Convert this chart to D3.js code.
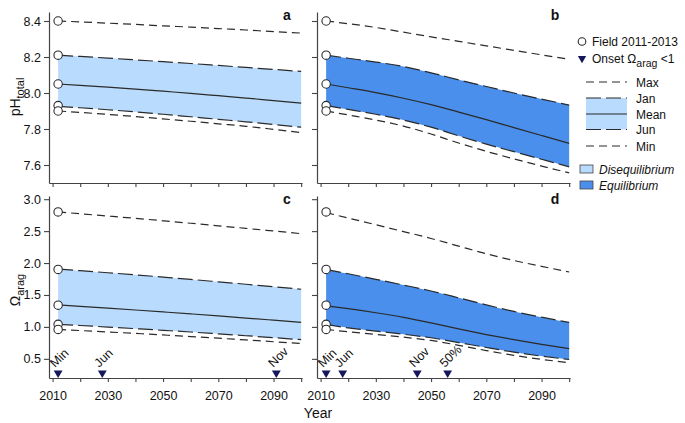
<!DOCTYPE html>
<html><head><meta charset="utf-8">
<script src="https://cdn.jsdelivr.net/npm/d3@7"></script>
<style>
body{margin:0;background:#fff;}
text{font-family:"Liberation Sans",Arial,Helvetica,sans-serif;fill:#111;}
</style>
</head><body>
<svg id="chart" width="685" height="423"></svg>
<script>
// ---------- DATA ----------
const years = [2012, 2020, 2030, 2040, 2050, 2060, 2070, 2080, 2090, 2100];

// pH, disequilibrium (panel a)
const phDiseqMax  = [8.400, 8.395, 8.388, 8.381, 8.373, 8.366, 8.358, 8.350, 8.341, 8.333];
const phDiseqJan  = [8.210, 8.203, 8.194, 8.184, 8.174, 8.164, 8.153, 8.142, 8.131, 8.120];
const phDiseqMean = [8.050, 8.042, 8.033, 8.022, 8.010, 7.998, 7.985, 7.972, 7.958, 7.944];
const phDiseqJun  = [7.926, 7.918, 7.907, 7.895, 7.882, 7.868, 7.854, 7.840, 7.825, 7.810];
const phDiseqMin  = [7.900, 7.892, 7.881, 7.869, 7.856, 7.843, 7.829, 7.815, 7.798, 7.780];

// pH, equilibrium (panel b)
const phEquilMax  = [8.400, 8.385, 8.364, 8.338, 8.312, 8.287, 8.262, 8.237, 8.212, 8.188];
const phEquilJan  = [8.210, 8.193, 8.172, 8.147, 8.112, 8.073, 8.036, 8.000, 7.966, 7.933];
const phEquilMean = [8.050, 8.029, 8.002, 7.971, 7.935, 7.894, 7.852, 7.808, 7.764, 7.720];
const phEquilJun  = [7.930, 7.909, 7.882, 7.850, 7.810, 7.762, 7.716, 7.674, 7.632, 7.590];
const phEquilMin  = [7.900, 7.878, 7.850, 7.816, 7.772, 7.722, 7.676, 7.634, 7.594, 7.556];

// Omega aragonite, disequilibrium (panel c)
const omDiseqMax  = [2.800, 2.772, 2.736, 2.700, 2.662, 2.623, 2.583, 2.543, 2.502, 2.460];
const omDiseqJan  = [1.905, 1.880, 1.848, 1.815, 1.780, 1.744, 1.706, 1.668, 1.630, 1.590];
const omDiseqMean = [1.344, 1.322, 1.294, 1.265, 1.235, 1.204, 1.172, 1.139, 1.105, 1.070];
const omDiseqJun  = [1.040, 1.022, 0.998, 0.973, 0.947, 0.920, 0.891, 0.862, 0.832, 0.800];
const omDiseqMin  = [0.960, 0.943, 0.921, 0.898, 0.874, 0.849, 0.823, 0.796, 0.768, 0.740];

// Omega aragonite, equilibrium (panel d)
const omEquilMax  = [2.790, 2.705, 2.600, 2.493, 2.385, 2.265, 2.145, 2.040, 1.948, 1.860];
const omEquilJan  = [1.900, 1.832, 1.745, 1.655, 1.562, 1.455, 1.345, 1.242, 1.152, 1.070];
const omEquilMean = [1.330, 1.285, 1.222, 1.150, 1.062, 0.968, 0.880, 0.800, 0.727, 0.660];
const omEquilJun  = [1.040, 0.985, 0.935, 0.885, 0.830, 0.755, 0.678, 0.605, 0.543, 0.490];
const omEquilMin  = [0.960, 0.925, 0.883, 0.840, 0.788, 0.712, 0.630, 0.555, 0.492, 0.440];

// Field observations 2011-2013 (plotted at 2012): Max, Jan, Mean, Jun, Min
const fieldYear  = 2012;
const fieldPH    = [8.40, 8.21, 8.05, 7.93, 7.90];
const fieldOmega = [2.80, 1.90, 1.34, 1.04, 0.96];

// Onset of Omega_arag < 1
const onsetDiseqLabels = ["Min", "Jun", "Nov"];
const onsetDiseqYears  = [2012, 2028, 2091];
const onsetEquilLabels = ["Min", "Jun", "Nov", "50%"];
const onsetEquilYears  = [2012, 2018, 2045, 2056];

// Ticks
const xTicks      = [2010, 2020, 2030, 2040, 2050, 2060, 2070, 2080, 2090, 2100];
const xTickLabels = [2010, 2030, 2050, 2070, 2090];
const phTicks     = [7.6, 7.8, 8.0, 8.2, 8.4];
const omTicks     = [0.5, 1.0, 1.5, 2.0, 2.5, 3.0];

const legendLineLabels = ["Max", "Jan", "Mean", "Jun", "Min"];
const legendFillLabels = ["Disequilibrium", "Equilibrium"];

// ---------- STYLE ----------
const colDiseq = "#b9dbfd";
const colEquil = "#4a8fec";
const colLine = "#2a2a2a";
const colAxis = "#444";
const colTri = "#16165c";
const dashShort = "8,5";
const dashLong = "15,5";

const svg = d3.select("#chart");

const xDomain = [2008.7, 2100.3];
const panels = [
  {letter:"a", xr:[49,302], yr:[183,12], dom:[7.5,8.45], ticks:phTicks, ylab:true, xlab:false,
   s:[phDiseqMax, phDiseqJan, phDiseqMean, phDiseqJun, phDiseqMin], field:fieldPH, fill:colDiseq},
  {letter:"b", xr:[317,570], yr:[183,12], dom:[7.5,8.45], ticks:phTicks, ylab:false, xlab:false,
   s:[phEquilMax, phEquilJan, phEquilMean, phEquilJun, phEquilMin], field:fieldPH, fill:colEquil},
  {letter:"c", xr:[49,302], yr:[378,196], dom:[0.2,3.05], ticks:omTicks, ylab:true, xlab:true,
   s:[omDiseqMax, omDiseqJan, omDiseqMean, omDiseqJun, omDiseqMin], field:fieldOmega, fill:colDiseq,
   onL:onsetDiseqLabels, onY:onsetDiseqYears},
  {letter:"d", xr:[317,570], yr:[378,196], dom:[0.2,3.05], ticks:omTicks, ylab:false, xlab:true,
   s:[omEquilMax, omEquilJan, omEquilMean, omEquilJun, omEquilMin], field:fieldOmega, fill:colEquil,
   onL:onsetEquilLabels, onY:onsetEquilYears}
];

panels.forEach(p => {
  const x = d3.scaleLinear().domain(xDomain).range(p.xr);
  const y = d3.scaleLinear().domain(p.dom).range(p.yr);
  const g = svg.append("g");

  // area Jan-Jun
  const area = d3.area().x((d,i)=>x(years[i])).y0((d,i)=>y(p.s[3][i])).y1((d,i)=>y(p.s[1][i]))
    .curve(d3.curveMonotoneX);
  g.append("path").attr("d", area(years)).attr("fill", p.fill).attr("stroke","none");

  const styles = [dashShort, dashLong, null, dashLong, dashShort];
  p.s.forEach((arr, k) => {
    const line = d3.line().x((d,i)=>x(years[i])).y((d,i)=>y(arr[i])).curve(d3.curveMonotoneX);
    g.append("path").attr("d", line(years)).attr("fill","none").attr("stroke", colLine)
      .attr("stroke-width", 1.2).attr("stroke-dasharray", styles[k]);
  });

  // field circles
  p.field.forEach(v => {
    g.append("circle").attr("cx", x(fieldYear)).attr("cy", y(v)).attr("r", 4.2)
      .attr("fill","#fff").attr("stroke", colLine).attr("stroke-width", 1.1);
  });

  // axes
  const yAxis = d3.axisLeft(y).tickValues(p.ticks).tickSize(5).tickSizeOuter(0).tickPadding(3)
    .tickFormat(p.ylab ? d3.format(".1f") : () => "");
  const ya = g.append("g").attr("transform", `translate(${p.xr[0]},0)`).call(yAxis);
  const xAxis = d3.axisBottom(x).tickValues(xTicks).tickSize(4).tickSizeOuter(0).tickPadding(9)
    .tickFormat(d => (p.xlab && xTickLabels.includes(d)) ? d : "");
  const xa = g.append("g").attr("transform", `translate(0,${p.yr[0]})`).call(xAxis);
  [ya, xa].forEach(a => {
    a.select(".domain").attr("stroke", colAxis).attr("stroke-width", 1.2);
    a.selectAll(".tick line").attr("stroke", colAxis).attr("stroke-width", 1.1);
    a.selectAll(".tick text").attr("fill", "#111").style("font-size", "12.5px")
      .style("font-family", '"Liberation Sans",Arial,sans-serif');
  });

  // panel letter
  g.append("text").attr("x", p.xr[1] - 15).attr("y", p.yr[1] + 8).attr("text-anchor","middle")
    .style("font-weight","bold").style("font-size","14px").text(p.letter);

  // onset markers
  if (p.onL) {
    const tri = d3.symbol().type(d3.symbolTriangle).size(34);
    p.onY.forEach((yr, i) => {
      const tx = x(yr), ty = p.yr[0] - 5;
      g.append("path").attr("d", tri()).attr("transform", `translate(${tx},${ty}) rotate(180)`)
        .attr("fill", colTri);
      g.append("text").attr("transform", `translate(${tx - 3},${ty - 5}) rotate(-45)`)
        .style("font-size","12.5px").text(p.onL[i]);
    });
  }
});

// axis titles
const pht = svg.append("text").attr("transform","translate(20,97) rotate(-90)").attr("text-anchor","middle")
  .style("font-size","14px");
pht.append("tspan").text("pH");
pht.append("tspan").attr("dy", 4).style("font-size","11px").text("total");

const omt = svg.append("text").attr("transform","translate(20,290) rotate(-90)").attr("text-anchor","middle")
  .style("font-size","14px");
omt.append("tspan").text("Ω");
omt.append("tspan").attr("dy", 4).style("font-size","11px").text("arag");

svg.append("text").attr("x", 318).attr("y", 418).attr("text-anchor","middle").style("font-size","14px").text("Year");

// ---------- LEGEND ----------
const lg = svg.append("g");
lg.append("circle").attr("cx", 582).attr("cy", 41.5).attr("r", 3.8).attr("fill","#fff")
  .attr("stroke", colLine).attr("stroke-width", 1.1);
lg.append("text").attr("x", 592).attr("y", 45.5).style("font-size","12px").text("Field 2011-2013");
lg.append("path").attr("d", d3.symbol().type(d3.symbolTriangle).size(30)())
  .attr("transform","translate(582,58.5) rotate(180)").attr("fill", colTri);
const ot = lg.append("text").attr("x", 592).attr("y", 63).style("font-size","12px");
ot.append("tspan").text("Onset Ω");
ot.append("tspan").attr("dy", 4).style("font-size","10.5px").text("arag");
ot.append("tspan").attr("dy", -4).text(" <1");

const legY = [82, 98, 114, 129.5, 146];
lg.append("rect").attr("x", 586).attr("y", legY[1]).attr("width", 41).attr("height", legY[3]-legY[1])
  .attr("fill", colDiseq);
const lstyles = [dashShort, dashLong, null, dashLong, dashShort];
legendLineLabels.forEach((lab, i) => {
  lg.append("line").attr("x1", 586).attr("x2", 627).attr("y1", legY[i]).attr("y2", legY[i])
    .attr("stroke", colLine).attr("stroke-width", 1.2).attr("stroke-dasharray", lstyles[i]);
  lg.append("text").attr("x", 636).attr("y", legY[i] + 4.5).style("font-size","12px").text(lab);
});
const fillCols = [colDiseq, colEquil];
const fillY = [165, 181];
legendFillLabels.forEach((lab, i) => {
  lg.append("rect").attr("x", 580).attr("y", fillY[i]).attr("width", 13).attr("height", 8)
    .attr("fill", fillCols[i]).attr("stroke", "#444").attr("stroke-width", 0.8);
  lg.append("text").attr("x", 599).attr("y", fillY[i] + 8.5).style("font-size","12px")
    .style("font-style","italic").text(lab);
});
</script>
</body></html>
